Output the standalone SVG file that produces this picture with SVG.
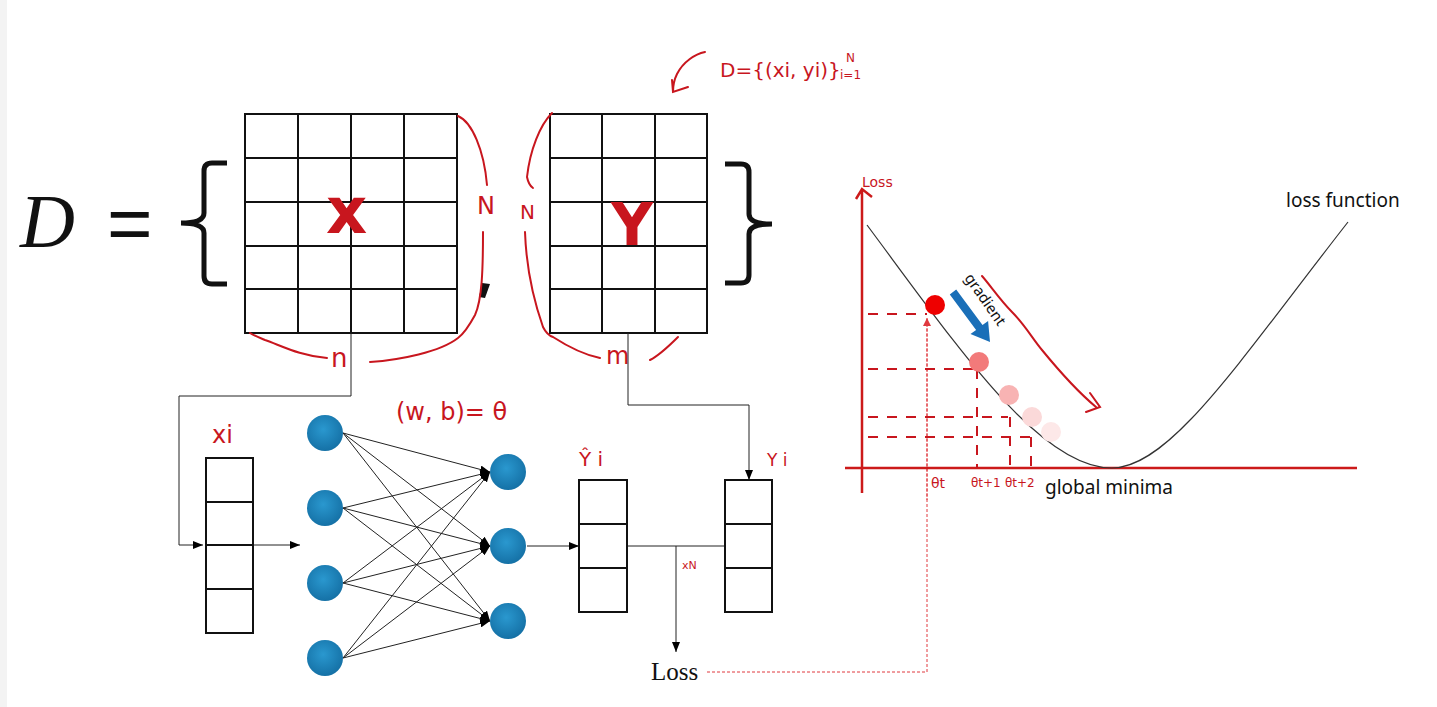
<svg xmlns="http://www.w3.org/2000/svg" width="1437" height="707" viewBox="0 0 1437 707">
<defs>
<style>
.grid{fill:none;stroke:#111;stroke-width:2}
.thin{fill:none;stroke:#222;stroke-width:1}
.red{fill:none;stroke:#c8161e;stroke-width:2;stroke-linecap:round}
.dash{fill:none;stroke:#c8161e;stroke-width:2;stroke-dasharray:10 9}
.hand{fill:#c8161e;font-family:"DejaVu Sans",sans-serif}
.lbl{fill:#111;font-family:"Noto Sans","Open Sans",sans-serif}
.node{fill:url(#ng)}
</style>
<radialGradient id="ng" cx="0.45" cy="0.4" r="0.6">
<stop offset="0" stop-color="#2a98cf"/>
<stop offset="1" stop-color="#1571a6"/>
</radialGradient>
<marker id="ah" markerWidth="10" markerHeight="8" refX="10" refY="4" orient="auto" markerUnits="userSpaceOnUse">
<path d="M0,0 L10,4 L0,8 z" fill="#000"/>
</marker>
<marker id="ahr" markerWidth="8" markerHeight="8" refX="8" refY="4" orient="auto" markerUnits="userSpaceOnUse">
<path d="M0,0 L8,4 L0,8 z" fill="#e0393f"/>
</marker>
</defs>
<rect width="1437" height="707" fill="#fff"/>
<rect x="0" y="0" width="7" height="707" fill="#f3f3f3"/>

<g id="formula">
<text x="20" y="247" font-family="Liberation Serif,serif" font-style="italic" font-size="76" fill="#111">D</text>
<text x="107" y="250" font-family="Liberation Sans,sans-serif" font-size="78" fill="#111">=</text>
<path d="M227,163 L212,163 Q204,163 204,171 L204,213 Q204,223 181,223 Q204,223 204,233 L204,276 Q204,284 212,284 L227,284" fill="none" stroke="#111" stroke-width="5"/>
<path d="M725,164 L741,164 Q749,164 749,172 L749,214 Q749,224 772,224 Q749,224 749,234 L749,275 Q749,283 741,283 L725,283" fill="none" stroke="#111" stroke-width="5"/>
<path d="M482,283 L490,284 L485,298 L479,297 z" fill="#111"/>
</g>

<g id="matrix-x">
<rect x="245" y="114" width="212" height="219" class="grid"/>
<path class="grid" d="M298,114V333M351,114V333M404,114V333M245,158H457M245,202H457M245,246H457M245,289H457"/>
<text x="326" y="233" class="hand" font-family="Liberation Sans,sans-serif" font-weight="bold" font-size="64">x</text>
</g>

<g id="matrix-y">
<rect x="550" y="114" width="157" height="219" class="grid"/>
<path class="grid" d="M602,114V333M655,114V333M550,158H707M550,202H707M550,246H707M550,289H707"/>
<text x="611" y="245" class="hand" font-family="Liberation Sans,sans-serif" font-weight="bold" font-size="58">Y</text>
</g>

<g id="annotations">
<path class="red" d="M458,116 C472,122 484,150 487,185"/>
<path class="red" d="M483,232 C483,270 482,300 475,315 C468,328 462,335 458,338 C440,352 400,360 370,362"/>
<path class="red" d="M327,358 C300,356 280,345 265,340 C258,337 253,335 250,333"/>
<text x="477" y="214" class="hand" font-size="24">N</text>
<text x="331" y="367" class="hand" font-size="26">n</text>
<path class="red" d="M552,113 C540,125 530,150 527,177 C528,182 530,186 533,188"/>
<path class="red" d="M525,232 C526,260 530,290 543,327 C546,333 550,336 553,337 C570,348 585,355 600,358"/>
<path class="red" d="M650,360 C660,355 670,345 678,337"/>
<text x="520" y="219" class="hand" font-size="20">N</text>
<text x="606" y="364" class="hand" font-size="24">m</text>
<path class="red" d="M705,52 C695,54 683,62 677,74 C674,80 673,86 673,92 M672,80 L673,92 L688,87"/>
<text x="720" y="77" class="hand" font-size="20">D={(xi, yi)}</text>
<text x="846" y="62" class="hand" font-size="12">N</text>
<text x="840" y="79" class="hand" font-size="12">i=1</text>
</g>

<g id="connectors">
<path class="thin" d="M351,333 V396 H179 V545 H203" marker-end="url(#ah)"/>
<path class="thin" d="M253,545 H300" marker-end="url(#ah)"/>
<path class="thin" d="M628,333 V405 H749 V480" marker-end="url(#ah)"/>
<path class="thin" d="M527,546 H579" marker-end="url(#ah)"/>
<path class="thin" d="M627,546 H725"/>
<path class="thin" d="M676,546 V652" marker-end="url(#ah)"/>
<path d="M707,672 H927 V318" fill="none" stroke="#e0393f" stroke-width="1" stroke-dasharray="3 2" marker-end="url(#ahr)"/>
<path d="M927,318 V500" fill="none" stroke="#e0393f" stroke-width="1" stroke-dasharray="3 2"/>
<g class="thin">
<path d="M343,433 L490,472" marker-end="url(#ah)"/>
<path d="M343,433 L490,546" marker-end="url(#ah)"/>
<path d="M343,433 L490,621" marker-end="url(#ah)"/>
<path d="M343,508 L490,472" marker-end="url(#ah)"/>
<path d="M343,508 L490,546" marker-end="url(#ah)"/>
<path d="M343,508 L490,621" marker-end="url(#ah)"/>
<path d="M343,583 L490,472" marker-end="url(#ah)"/>
<path d="M343,583 L490,546" marker-end="url(#ah)"/>
<path d="M343,583 L490,621" marker-end="url(#ah)"/>
<path d="M343,658 L490,472" marker-end="url(#ah)"/>
<path d="M343,658 L490,546" marker-end="url(#ah)"/>
<path d="M343,658 L490,621" marker-end="url(#ah)"/>
</g>
</g>

<g id="xi-vector">
<rect x="206" y="458" width="47" height="175" class="grid"/>
<path class="grid" d="M206,502H253M206,545H253M206,589H253"/>
<text x="212" y="443" class="hand" font-size="24">xi</text>
</g>

<g id="network">
<circle cx="325" cy="433" r="18" class="node"/>
<circle cx="325" cy="508" r="18" class="node"/>
<circle cx="325" cy="583" r="18" class="node"/>
<circle cx="325" cy="658" r="18" class="node"/>
<circle cx="508" cy="472" r="18" class="node"/>
<circle cx="508" cy="546" r="18" class="node"/>
<circle cx="508" cy="621" r="18" class="node"/>
<text x="396" y="420" class="hand" font-size="24">(w, b)= θ</text>
</g>

<g id="yhat-vector">
<rect x="579" y="480" width="48" height="132" class="grid"/>
<path class="grid" d="M579,524H627M579,568H627"/>
<text x="579" y="466" class="hand" font-size="20">Ŷ i</text>
</g>

<g id="yi-vector">
<rect x="725" y="480" width="47" height="132" class="grid"/>
<path class="grid" d="M725,524H772M725,568H772"/>
<text x="767" y="466" class="hand" font-size="17">Y i</text>
<text x="682" y="569" class="hand" font-size="11">xN</text>
</g>

<g id="loss">
<text x="651" y="680" font-family="Liberation Serif,serif" font-size="25" fill="#111">Loss</text>
</g>

<g id="chart">
<path d="M862,493 V190 M856,199 L862,189 L872,197" fill="none" stroke="#cc1a1a" stroke-width="2.5"/>
<path d="M845,468 H1357" fill="none" stroke="#cc1a1a" stroke-width="2.5"/>
<text x="862" y="187" class="hand" font-size="14">Loss</text>
<path d="M867,225 C960,350 1040,468 1112,468 C1170,468 1240,360 1348,222" fill="none" stroke="#333" stroke-width="1.2"/>
<path class="dash" d="M868,314 H927"/>
<path class="dash" d="M868,369 H976"/>
<path class="dash" d="M868,417 H1008"/>
<path class="dash" d="M868,437 H1030"/>
<path class="dash" d="M977,369 V468"/>
<path class="dash" d="M1010,417 V468"/>
<path class="dash" d="M1031,437 V468"/>
<circle cx="935" cy="305" r="10" fill="#ee0000"/>
<circle cx="979" cy="362" r="10" fill="#f27a7a"/>
<circle cx="1009" cy="395" r="10" fill="#f8b3b3"/>
<circle cx="1032" cy="417" r="10" fill="#fbd9d9"/>
<circle cx="1051" cy="432" r="10" fill="#fde8e8"/>
<path d="M956.2,289.6 L982.5,325.1 L988.1,321 L990,342 L970.5,334 L976.1,329.9 L949.8,294.4 z" fill="#1a6fb8"/>
<text transform="translate(964,278) rotate(55)" class="lbl" font-size="15">gradient</text>
<path class="red" d="M982,276 C990,285 1000,300 1012,312 C1025,325 1032,338 1042,350 C1060,372 1078,392 1096,407 M1090,393 L1100,407 L1086,412"/>
<text x="931" y="488" class="hand" font-size="14">θt</text>
<text x="971" y="487" class="hand" font-size="12">θt+1</text>
<text x="1005" y="487" class="hand" font-size="12">θt+2</text>
<text x="1045" y="494" class="lbl" font-size="19">global minima</text>
<text x="1286" y="207" class="lbl" font-size="19">loss function</text>
</g>
</svg>
